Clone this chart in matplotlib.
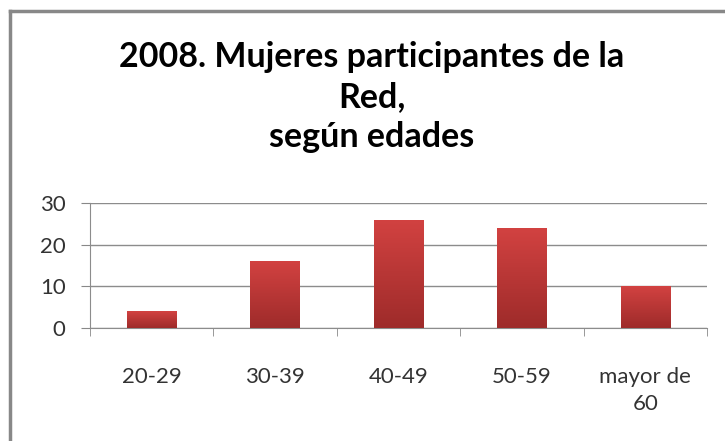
import matplotlib.pyplot as plt
import numpy as np
from matplotlib.colors import LinearSegmentedColormap
from matplotlib.lines import Line2D

categories = ["20-29", "30-39", "40-49", "50-59", "mayor de\n60"]
values = [4, 16, 26, 24, 10]
yticks = [0, 10, 20, 30]

plt.rcParams['font.family'] = ['Lato', 'DejaVu Sans']

fig = plt.figure(figsize=(7.25, 4.41), dpi=100)
ax = fig.add_axes([90 / 725, 1 - 328 / 441, 617 / 725, 125 / 441])

x = np.arange(len(categories))
bars = ax.bar(x, values, width=0.4, color="#c0393a", zorder=2)

# vertical gradient inside each bar
cmap = LinearSegmentedColormap.from_list("red", ["#d24241", "#9e2b2a"])
grad = np.linspace(0, 1, 256).reshape(-1, 1)
for b in bars:
    x0, y0 = b.get_x(), b.get_y()
    w, h = b.get_width(), b.get_height()
    im = ax.imshow(grad, cmap=cmap, aspect="auto", extent=[x0, x0 + w, y0, y0 + h],
                   origin="upper", zorder=3)
    im.set_clip_path(b)

ax.set_xlim(-0.5, len(categories) - 0.5)
ax.set_ylim(0, 30)
ax.set_yticks(yticks)
ax.set_xticks(x)
ax.set_xticklabels(categories, fontsize=16, color="#333333", linespacing=1.45)
ax.set_xticks(np.arange(len(categories) + 1) - 0.5, minor=True)
ax.tick_params(axis="x", which="major", length=0, pad=28)
ax.tick_params(axis="x", which="minor", length=6, color="#888888")
ax.tick_params(axis="y", length=6.5, color="#888888", labelsize=16, labelcolor="#333333", pad=11)
ax.grid(axis="y", color="#8c8c8c", linewidth=1, zorder=0)
for s in ["top", "right"]:
    ax.spines[s].set_visible(False)
ax.spines["left"].set_color("#8c8c8c")
ax.spines["bottom"].set_color("#8c8c8c")

title_lines = ["2008. Mujeres participantes de la", "Red,", "según edades"]
for i, line in enumerate(title_lines):
    fig.text(372 / 725, 1 - (57 + 40 * i) / 441, line, ha="center", va="center",
             fontsize=24.5, fontweight="bold", color="black")

# outer chart frame (left and top only visible)
fig.add_artist(Line2D([10 / 725, 10 / 725], [0, 1 - 11 / 441], transform=fig.transFigure,
                      color="#888888", linewidth=2.5))
fig.add_artist(Line2D([10 / 725, 1], [1 - 11 / 441, 1 - 11 / 441], transform=fig.transFigure,
                      color="#888888", linewidth=2.5))

fig.savefig("out.png", dpi=100)
